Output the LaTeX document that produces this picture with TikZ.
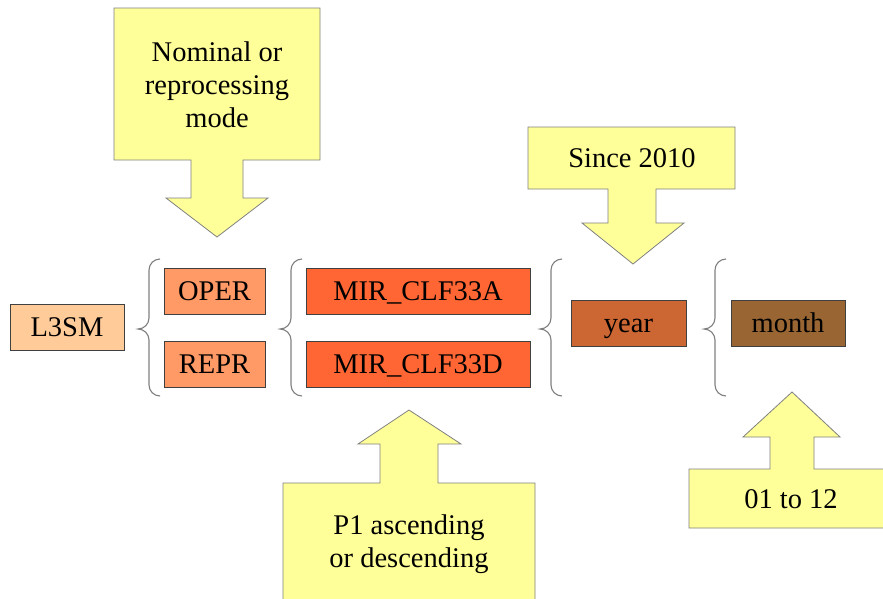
\documentclass[tikz,border=0pt]{standalone}
\usepackage{fontspec}
\setmainfont{Liberation Serif}
\definecolor{cL}{HTML}{FFCC99}
\definecolor{cO}{HTML}{FF9966}
\definecolor{cM}{HTML}{FF6633}
\definecolor{cY}{HTML}{CC6633}
\definecolor{cMo}{HTML}{996633}
\definecolor{callfill}{HTML}{FFFF99}
\definecolor{calldraw}{HTML}{808080}
\definecolor{boxdraw}{HTML}{404040}
\definecolor{bracecol}{HTML}{7F7F7F}
\newcommand{\mybrace}[4]{% x_tip, y_top, y_tip, y_bottom ; r=11
  \draw[bracecol, line width=1.1pt]
    ({#1+22},#2) arc[start angle=-90, end angle=-180, radius=11]
    -- ({#1+11},{#3-11}) arc[start angle=0, end angle=90, radius=11]
    arc[start angle=-90, end angle=0, radius=11]
    -- ({#1+11},{#4-11}) arc[start angle=180, end angle=90, radius=11];
}
\tikzset{
  txt/.style={font=\fontsize{28.5}{33}\selectfont, align=center, inner sep=0pt},
  fbox/.style={draw=boxdraw, line width=0.8pt, font=\fontsize{28.5}{33}\selectfont,
    inner sep=0pt, text height=19pt, text depth=0pt},
  callout/.style={fill=callfill, draw=calldraw, line width=0.8pt},
}
\begin{document}
\begin{tikzpicture}[x=1pt, y=-1pt]
\useasboundingbox (0,0) rectangle (883,598);
\clip (0,0) rectangle (883,598);
% boxes
\node[fbox, fill=cL, minimum width=114pt, minimum height=46pt] (l3sm) at (67,327) {L3SM};
\node[fbox, fill=cO, minimum width=101pt, minimum height=46pt] (oper) at (214.5,291) {OPER};
\node[fbox, fill=cO, minimum width=101pt, minimum height=46pt] (repr) at (214.5,364) {REPR};
\node[fbox, fill=cM, minimum width=224pt, minimum height=46pt] (mira) at (418,291) {MIR\_CLF33A};
\node[fbox, fill=cM, minimum width=224pt, minimum height=46pt] (mird) at (418,364) {MIR\_CLF33D};
\node[fbox, fill=cY, minimum width=115pt, minimum height=46pt] (year) at (628.5,323) {year};
\node[fbox, fill=cMo, minimum width=114pt, minimum height=46pt] (month) at (788,323) {month};
% braces
\mybrace{138}{259}{329}{396}
\mybrace{280}{259}{329}{396}
\mybrace{540}{259}{329}{396}
\mybrace{704}{259}{329}{396}
% callouts
\draw[callout] (114,8) -- (320,8) -- (320,160) -- (243,160) -- (243,198) -- (268,198)
  -- (217,237) -- (166,198) -- (191,198) -- (191,160) -- (114,160) -- cycle;
\node[txt] (c1) at (217,85) {Nominal or\\reprocessing\\mode};
\draw[callout] (528,127) -- (735,127) -- (735,189) -- (656,189) -- (656,223) -- (684,223)
  -- (633,264) -- (582,223) -- (608,223) -- (608,189) -- (528,189) -- cycle;
\node[txt] (c2) at (632,158) {Since 2010};
\draw[callout] (283,620) -- (283,483) -- (380,483) -- (380,444) -- (358,444) -- (409,410)
  -- (461,444) -- (438,444) -- (438,483) -- (535,483) -- (535,620) -- cycle;
\node[txt] (c3) at (409,544) {P1 ascending\\or descending};
\draw[callout] (689,528) -- (689,469) -- (770,469) -- (770,437) -- (743,437) -- (792,392)
  -- (840,437) -- (814,437) -- (814,469) -- (895,469) -- (895,528) -- cycle;
\node[txt] (c4) at (791,499) {01 to 12};
\end{tikzpicture}
\end{document}
